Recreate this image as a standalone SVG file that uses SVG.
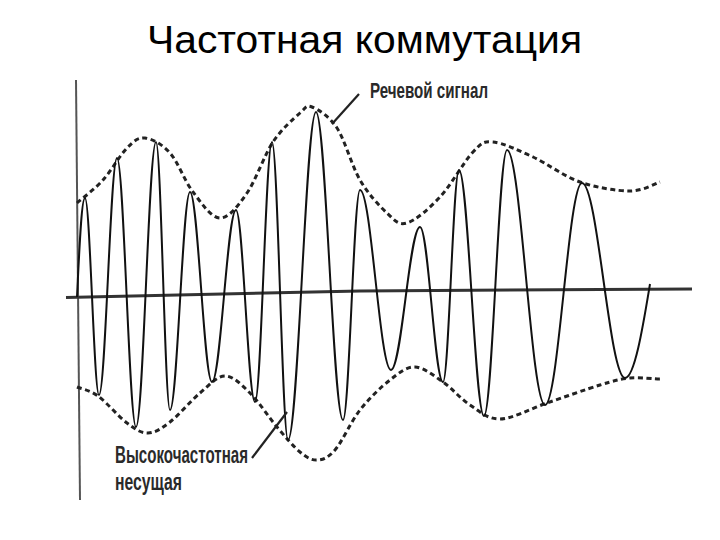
<svg xmlns="http://www.w3.org/2000/svg" width="720" height="540" viewBox="0 0 720 540">
<style>
.title{font-family:"Liberation Sans",Arial,sans-serif;font-size:38px;fill:#000}
.lbl{font-family:"Liberation Sans",Arial,sans-serif;font-weight:bold;fill:#2a2a2a}
.env{fill:none;stroke:#222;stroke-width:3;stroke-dasharray:5 3.5}
.wave{fill:none;stroke:#111;stroke-width:2;stroke-linejoin:round}
.lead{fill:none;stroke:#222;stroke-width:2.2}
</style>
<rect width="720" height="540" fill="#fff"/>
<text id="title" class="title" x="147" y="53" textLength="435" lengthAdjust="spacingAndGlyphs">Частотная коммутация</text>
<g id="axes">
<line x1="76" y1="80" x2="80" y2="500" stroke="#555" stroke-width="2"/>
<path d="M66,297.5 L360,291 L692,289" fill="none" stroke="#333" stroke-width="3"/>
</g>
<g id="envelopes">
<path id="upper-envelope" class="env" d="M77,203 C81.3,199.2 94.7,189.2 103,180 C111.3,170.8 120,155 127,148 C134,141 137.8,137.2 145,138 C152.2,138.8 162,144 170,153 C178,162 184.7,181.2 193,192 C201.3,202.8 211,217.8 220,218 C229,218.2 238.2,205.7 247,193 C255.8,180.3 264.2,155.3 273,142 C281.8,128.7 293.5,118.8 300,113 C306.5,107.2 305.8,104.5 312,107 C318.2,109.5 329,115.8 337,128 C345,140.2 351.7,165.8 360,180 C368.3,194.2 379.2,205.8 387,213 C394.8,220.2 398.2,225.7 407,223 C415.8,220.3 429,208.8 440,197 C451,185.2 464.2,161.2 473,152 C481.8,142.8 483,141.2 493,142 C503,142.8 518.5,150.3 533,157 C547.5,163.7 563.8,176.3 580,182 C596.2,187.7 616.7,191 630,191 C643.3,191 655,183.5 660,182"/>
<path id="lower-envelope" class="env" d="M77,387 C80.5,388.5 89.7,390 98,396 C106.3,402 118.7,416.8 127,423 C135.3,429.2 140.8,433.2 148,433 C155.2,432.8 161.3,428.7 170,422 C178.7,415.3 190.8,400.7 200,393 C209.2,385.3 216.7,376 225,376 C233.3,376 241.3,384.5 250,393 C258.7,401.5 268.7,417.2 277,427 C285.3,436.8 293.3,446.5 300,452 C306.7,457.5 311.2,460.3 317,460 C322.8,459.7 327.8,458.3 335,450 C342.2,441.7 350.8,421.7 360,410 C369.2,398.3 380.8,387.2 390,380 C399.2,372.8 406.2,366.7 415,367 C423.8,367.3 433.8,375.7 443,382 C452.2,388.3 460.5,398.8 470,405 C479.5,411.2 487.2,419.3 500,419 C512.8,418.7 530.3,408.7 547,403 C563.7,397.3 586.2,389.2 600,385 C613.8,380.8 620,379 630,378 C640,377 655,379.2 660,379"/>
</g>
<g id="carrier">
<path class="wave" d="M77,297 C79.5,246 81.5,198 85,198 C90.1,198 93.9,395 99,395 C105.6,395 110.4,158 117,158 C123.9,158 129.1,427 136,427 C143.3,427 148.7,142 156,142 C161.1,142 164.9,410 170,410 C177.3,410 182.7,192 190,192 C198,192 204,382 212,382 C220.7,382 227.3,210 236,210 C242.9,210 248.1,402 255,402 C261.2,402 265.8,142 272,142 C277.8,142 282.2,440 288,440 C298.2,440 305.8,112 316,112 C325.8,112 333.2,420 343,420 C349.2,420 353.8,190 360,190 C371.3,190 379.7,370 391,370 C401.6,370 409.4,227 420,227 C428.4,227 434.6,382 443,382 C448.8,382 453.2,170 459,170 C468.1,170 474.9,416 484,416 C492.4,416 498.6,150 507,150 C520.8,150 531.2,405 545,405 C558.5,405 568.5,183 582,183 C597.7,183 609.3,378 625,378 C635,378 644,320 650,284"/>
</g>
<g id="connectors">
<line class="lead" x1="359" y1="94" x2="332" y2="124"/>
<line class="lead" x1="252" y1="458" x2="287" y2="412"/>
</g>
<g id="label-speech">
<text class="lbl" x="370" y="98" font-size="22" textLength="118" lengthAdjust="spacingAndGlyphs">Речевой сигнал</text>
</g>
<g id="label-carrier">
<text class="lbl" x="115" y="463" font-size="24" textLength="133" lengthAdjust="spacingAndGlyphs">Высокочастотная</text>
<text class="lbl" x="115" y="490" font-size="24" textLength="67" lengthAdjust="spacingAndGlyphs">несущая</text>
</g>
</svg>
